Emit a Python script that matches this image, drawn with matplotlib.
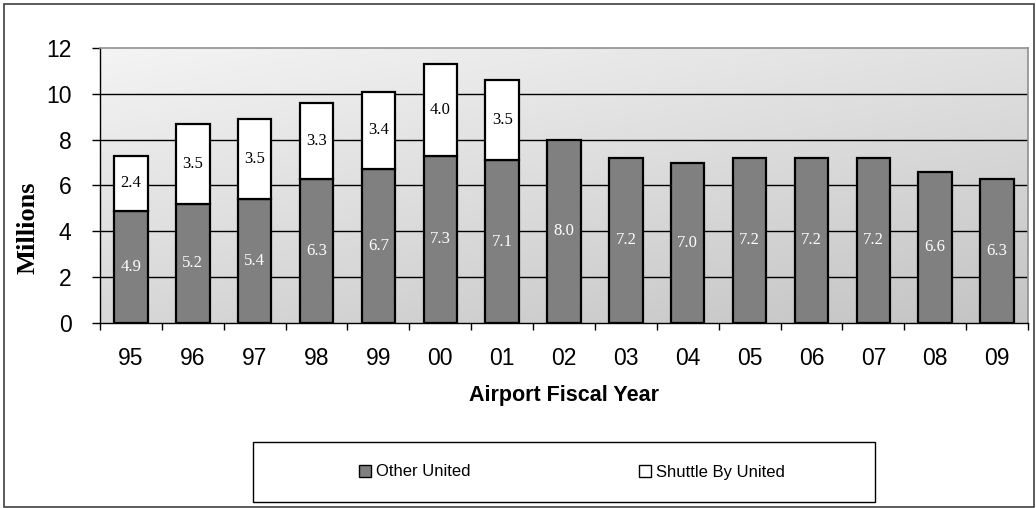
import matplotlib
matplotlib.use("Agg")
import matplotlib.pyplot as plt
import numpy as np
from matplotlib.patches import Rectangle, Patch

years = ["95", "96", "97", "98", "99", "00", "01", "02", "03", "04", "05", "06", "07", "08", "09"]
other_united = [4.9, 5.2, 5.4, 6.3, 6.7, 7.3, 7.1, 8.0, 7.2, 7.0, 7.2, 7.2, 7.2, 6.6, 6.3]
shuttle_united = [2.4, 3.5, 3.5, 3.3, 3.4, 4.0, 3.5, 0, 0, 0, 0, 0, 0, 0, 0]
yticks = [0, 2, 4, 6, 8, 10, 12]

W, H = 1036, 508
fig = plt.figure(figsize=(W / 100, H / 100), dpi=100)
fig.patch.set_facecolor("white")

# outer frame
fig.patches.append(Rectangle((4 / W, 1 / H), (W - 6) / W, (H - 5) / H, transform=fig.transFigure,
                             fill=False, edgecolor="#404040", linewidth=1.2))

ax = fig.add_axes([100 / W, (H - 323) / H, 928 / W, 275 / H])
x = np.arange(len(years))
ax.set_xlim(-0.5, len(years) - 0.5)
ax.set_ylim(0, 12)

# gradient background
gx, gy = np.meshgrid(np.linspace(0, 1, 200), np.linspace(0, 1, 200))
grad = 0.6 * gy + 0.4 * (1 - gx)
ax.imshow(grad, extent=[-0.5, len(years) - 0.5, 0, 12], aspect="auto", origin="lower",
          cmap=matplotlib.colors.LinearSegmentedColormap.from_list("g", ["#c4c4c4", "#f4f4f4"]),
          vmin=0, vmax=1, zorder=0)

for yv in yticks[1:-1]:
    ax.axhline(yv, color="black", linewidth=1.0, zorder=1)

bw = 0.54
ax.bar(x, other_united, width=bw, color="#808080", edgecolor="black", linewidth=1.6, zorder=3,
       label="Other United")
mask = np.array(shuttle_united) > 0
ax.bar(x[mask], np.array(shuttle_united)[mask], bottom=np.array(other_united)[mask], width=bw,
       color="white", edgecolor="black", linewidth=1.6, zorder=3, label="Shuttle By United")

for i in range(len(years)):
    ax.text(x[i], other_united[i] / 2, f"{other_united[i]:.1f}", ha="center", va="center",
            color="white", fontsize=12, family="Liberation Serif", zorder=4)
    if shuttle_united[i] > 0:
        ax.text(x[i], other_united[i] + shuttle_united[i] / 2, f"{shuttle_united[i]:.1f}",
                ha="center", va="center", color="black", fontsize=12,
                family="Liberation Serif", zorder=4)

ax.set_yticks(yticks)
ax.set_yticklabels([str(v) for v in yticks], fontsize=16.5, family="Liberation Sans")
ax.set_xticks(x)
ax.set_xticklabels(years, fontsize=16.5, family="Liberation Sans")
ax.set_xticks(np.arange(-0.5, len(years) + 0.5, 1), minor=True)
ax.tick_params(axis="x", which="major", length=0, pad=17)
ax.tick_params(axis="x", which="minor", length=5, width=1, color="black", direction="out")
ax.tick_params(axis="y", length=5.5, width=1, direction="out", pad=15)

for side in ["top", "right"]:
    ax.spines[side].set_color("#909090")
    ax.spines[side].set_linewidth(1.2)
for side in ["left", "bottom"]:
    ax.spines[side].set_color("black")
    ax.spines[side].set_linewidth(1.0)

fig.text(28 / W, 1 - 228 / H, "Millions", rotation=90, ha="center", va="center",
         fontsize=19, fontweight="bold", family="Liberation Serif")
fig.text(564 / W, 1 - 395 / H, "Airport Fiscal Year", ha="center", va="center",
         fontsize=15.5, fontweight="bold", family="Liberation Sans")

# legend
lx0, ly0, lx1, ly1 = 253, 442, 875, 502
fig.patches.append(Rectangle((lx0 / W, (H - ly1) / H), (lx1 - lx0) / W, (ly1 - ly0) / H,
                             transform=fig.transFigure, fill=True, facecolor="white",
                             edgecolor="black", linewidth=1.0))
handles = [Patch(facecolor="#808080", edgecolor="black", linewidth=1.0),
           Patch(facecolor="white", edgecolor="black", linewidth=1.0)]
fig.legend(handles, ["Other United", "Shuttle By United"], loc="center",
           bbox_to_anchor=(572 / W, (H - (ly0 + ly1) / 2) / H), ncol=2,
           frameon=False, handlelength=0.7, handleheight=0.7, handletextpad=0.3,
           columnspacing=10.1, prop={"family": "Liberation Sans", "size": 12})

fig.savefig("out.png", dpi=100)
